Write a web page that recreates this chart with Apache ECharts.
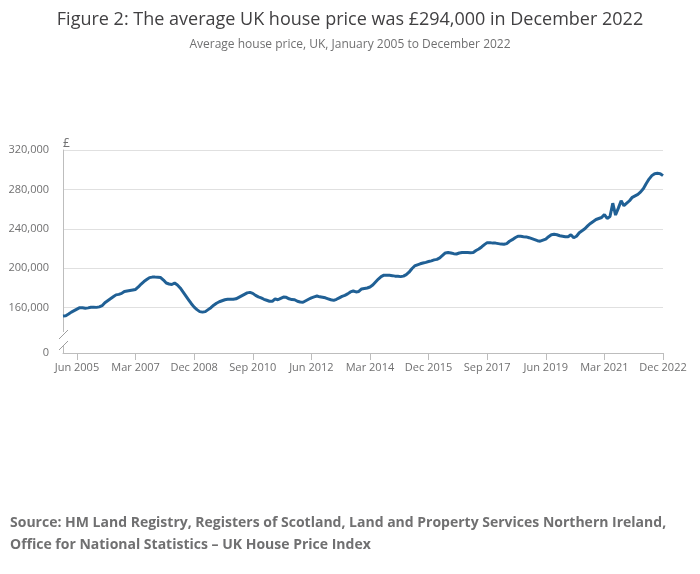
<!DOCTYPE html>
<html>
<head>
<meta charset="utf-8">
<script src="https://cdn.jsdelivr.net/npm/echarts@6/dist/echarts.min.js"></script>
<style>
  html, body { margin: 0; padding: 0; background: #fff; }
  #box1 { width: 700px; height: 574px; }
</style>
</head>
<body>
<div id="box1"></div>
<script>
var monthNames = ['Jan', 'Feb', 'Mar', 'Apr', 'May', 'Jun', 'Jul', 'Aug', 'Sep', 'Oct', 'Nov', 'Dec'];
var firstYear = 2005;
var lastYear = 2022;

// average house price, UK, monthly Jan 2005 - Dec 2022
var averagePrice = [
    151500, 151800, 153500, 155500, 157000, 158500, 160000, 160000, 159500, 159800, 160500, 160500, // 2005
    160300, 160800, 162000, 165000, 167000, 169000, 171000, 173000, 173500, 174500, 176500, 177000, // 2006
    177500, 178000, 178500, 181000, 184000, 186500, 188500, 190500, 191000, 191000, 190800, 190500, // 2007
    188000, 185000, 184000, 183500, 185000, 183000, 180000, 176000, 172000, 168000, 164000, 160500, // 2008
    158000, 156000, 155500, 156000, 158000, 160000, 162500, 164500, 166000, 167000, 168000, 168500, // 2009
    168500, 168500, 169000, 170500, 172000, 173500, 175000, 175500, 174500, 172500, 171000, 170000, // 2010
    168500, 167500, 166500, 166500, 169000, 168000, 169500, 170800, 170500, 169000, 168200, 168000, // 2011
    166500, 165800, 165500, 167000, 168500, 170000, 171000, 171800, 171000, 170500, 170000, 169000, // 2012
    168000, 167400, 168500, 170000, 171500, 172500, 174000, 176000, 176900, 176000, 176500, 179000, // 2013
    179500, 180000, 181000, 183000, 186000, 189000, 191500, 193000, 193000, 192800, 192500, 192000, // 2014
    191800, 191500, 192000, 193500, 196000, 199500, 202300, 203500, 204500, 205300, 206000, 206800, // 2015
    207500, 208500, 209000, 210500, 213000, 215500, 216000, 215500, 214800, 214500, 215500, 216000, // 2016
    216000, 216000, 215800, 216000, 218000, 219500, 221600, 224000, 226000, 226000, 225500, 225500, // 2017
    225000, 224500, 224300, 225000, 227400, 229000, 231000, 232500, 232400, 232000, 231800, 231000, // 2018
    230000, 229000, 228000, 227500, 228500, 229500, 232000, 234000, 234500, 234000, 233000, 232500, // 2019
    232000, 232000, 234000, 231000, 232500, 236000, 238000, 240000, 243000, 245500, 247500, 249500, // 2020
    250500, 251500, 254500, 250500, 252500, 266000, 254000, 261000, 268500, 263500, 266000, 268500, // 2021
    272000, 273500, 275000, 277500, 281000, 286000, 290500, 294000, 296000, 296300, 296000, 294000  // 2022
];

var yMin = 114000; // shown as 0 below the axis break
var yTicks = [114000, 160000, 200000, 240000, 280000, 320000];
var labelStart = 5; // Jun 2005
var labelStep = 21; // every 21 months

var categories = [];
for (var y = firstYear; y <= lastYear; y++) {
    for (var m = 0; m < 12; m++) {
        categories.push(monthNames[m] + ' ' + y);
    }
}

function showLabel(i) {
    return i >= labelStart && (i - labelStart) % labelStep === 0;
}

var chartDom = document.getElementById('box1');
var myChart = echarts.init(chartDom);

var greyText = '#707071';
var font = '"Open Sans", "Noto Sans", sans-serif';

var option = {
    animation: false,
    textStyle: { fontFamily: font },
    title: [{
        text: 'Figure 2: The average UK house price was £294,000 in December 2022',
        left: 'center',
        top: 6,
        textStyle: { fontFamily: font, fontSize: 18, fontWeight: 'normal', color: '#414042' }
    }, {
        text: 'Average house price, UK, January 2005 to December 2022',
        left: 'center',
        top: 34,
        textStyle: { fontFamily: font, fontSize: 12, fontWeight: 'normal', color: greyText }
    }, {
        text: 'Source: HM Land Registry, Registers of Scotland, Land and Property Services Northern Ireland,\nOffice for National Statistics – UK House Price Index',
        left: 5,
        top: 507,
        textStyle: { fontFamily: font, fontSize: 14, fontWeight: 'bold', color: greyText, lineHeight: 22 }
    }],
    grid: {
        left: 63,
        right: 37,
        top: 150,
        bottom: 221,
        containLabel: false
    },
    xAxis: {
        type: 'category',
        data: categories,
        boundaryGap: false,
        axisLine: { lineStyle: { color: '#bdbdbd', width: 1 } },
        axisTick: {
            interval: function (i) { return showLabel(i); },
            length: 7,
            lineStyle: { color: '#bdbdbd' }
        },
        axisLabel: {
            interval: function (i) { return showLabel(i); },
            color: greyText,
            fontSize: 11,
            margin: 9,
            fontFamily: font
        },
        splitLine: { show: false }
    },
    yAxis: {
        type: 'value',
        min: yMin,
        max: 320000,
        name: '£',
        nameLocation: 'end',
        nameGap: 0,
        nameTextStyle: { color: greyText, fontSize: 12, align: 'left', fontFamily: font },
        axisLine: { show: true, lineStyle: { color: '#bdbdbd', width: 1 } },
        axisTick: { show: false, customValues: yTicks },
        axisLabel: {
            customValues: yTicks,
            color: greyText,
            fontSize: 11,
            margin: 14,
            fontFamily: font,
            formatter: function (v) {
                if (v === yMin) return '0';
                return v.toLocaleString('en-GB');
            }
        },
        splitLine: { show: true, lineStyle: { color: '#e0e0e0', width: 1 } }
    },
    series: [{
        name: 'Average house price',
        type: 'line',
        data: averagePrice,
        showSymbol: false,
        symbol: 'none',
        lineStyle: { color: '#206095', width: 3 },
        itemStyle: { color: '#206095' }
    }]
};

myChart.setOption(option);

// axis break marks on the y axis, placed from the axis' own scale
var p = myChart.convertToPixel({ gridIndex: 0 }, [0, yMin]);
var x0 = p[0], yb = p[1];
myChart.setOption({
    graphic: [{
        type: 'rect',
        shape: { x: x0 - 3, y: yb - 21, width: 6, height: 14 },
        style: { fill: '#fff' },
        z: 100
    }, {
        type: 'line',
        shape: { x1: x0 - 4, y1: yb - 14, x2: x0 + 5, y2: yb - 23 },
        style: { stroke: '#9e9e9e', lineWidth: 1 },
        z: 101
    }, {
        type: 'line',
        shape: { x1: x0 - 4, y1: yb - 3, x2: x0 + 5, y2: yb - 12 },
        style: { stroke: '#9e9e9e', lineWidth: 1 },
        z: 101
    }]
});
</script>
</body>
</html>
